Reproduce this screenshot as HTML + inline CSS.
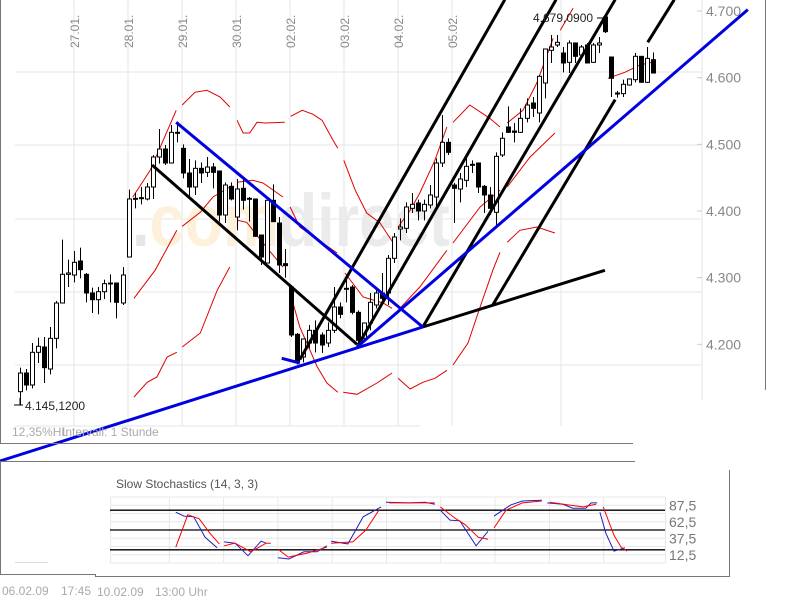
<!DOCTYPE html>
<html><head><meta charset="utf-8"><style>
html,body{margin:0;padding:0;background:#fff;}
svg{display:block;font-family:"Liberation Sans",Arial,sans-serif;}
</style></head><body>
<svg id="chart" width="800" height="600" viewBox="0 0 800 600" xmlns="http://www.w3.org/2000/svg">
<g id="grid"></g>
<g id="wm">
<text x="132" y="246" font-size="74" font-weight="bold" textLength="318" lengthAdjust="spacingAndGlyphs"><tspan fill="#e6e6e6">.</tspan><tspan fill="#fdf1dc">com</tspan><tspan fill="#ebebeb">direct</tspan></text>
</g>
<g id="bands"></g>
<g id="candles"></g>
<g id="annot"></g>
<g id="frame"></g>
<g id="stoch"></g>
</svg>
<script>
// ---------- main chart data ----------
const dateLabels = ["27.01.","28.01.","29.01.","30.01.","02.02.","03.02.","04.02.","05.02."];
const priceTicks = [4700,4600,4500,4400,4300,4200];
const priceTickLabels = ["4.700","4.600","4.500","4.400","4.300","4.200"];
const opens  = [4129,4157,4139,4188,4196,4163,4209,4262,4305,4304,4325,4305,4277,4267,4279,4292,4292,4262,4331,4418,4419,4418,4436,4481,4493,4472,4518,4494,4457,4436,4464,4458,4466,4460,4394,4437,4391,4434,4419,4418,4364,4322,4416,4382,4321,4286,4215,4181,4202,4221,4214,4202,4221,4256,4284,4286,4248,4209,4232,4259,4277,4277,4329,4373,4374,4404,4412,4400,4409,4421,4472,4503,4439,4433,4446,4470,4472,4437,4424,4398,4484,4526,4520,4518,4539,4562,4547,4592,4641,4649,4637,4623,4652,4634,4649,4623,4649,4691,4631,4577,4576,4589,4597,4632,4593,4627];
const highs  = [4165,4163,4202,4210,4211,4226,4265,4357,4327,4340,4345,4307,4285,4286,4297,4305,4292,4316,4432,4427,4436,4442,4484,4523,4499,4529,4532,4500,4478,4476,4473,4481,4472,4460,4443,4443,4448,4451,4421,4418,4364,4416,4440,4391,4343,4289,4217,4209,4229,4236,4218,4233,4286,4263,4304,4289,4251,4233,4277,4281,4307,4334,4367,4389,4413,4427,4417,4417,4439,4479,4544,4509,4442,4457,4481,4476,4472,4439,4436,4488,4518,4557,4532,4554,4569,4571,4604,4643,4664,4664,4646,4656,4653,4649,4652,4652,4661,4694,4631,4580,4597,4599,4637,4632,4646,4638];
const lows   = [4109,4131,4134,4172,4142,4155,4194,4262,4286,4293,4299,4263,4247,4245,4268,4263,4239,4259,4331,4404,4410,4416,4418,4471,4469,4471,4503,4449,4421,4424,4442,4451,4434,4384,4382,4416,4371,4402,4384,4361,4319,4322,4384,4307,4300,4211,4170,4173,4194,4188,4187,4196,4217,4239,4263,4245,4203,4203,4221,4254,4262,4259,4322,4356,4367,4397,4386,4386,4404,4406,4466,4484,4382,4413,4436,4457,4427,4397,4394,4376,4481,4517,4503,4517,4533,4541,4533,4569,4622,4646,4608,4607,4622,4631,4622,4622,4637,4667,4571,4570,4571,4588,4593,4593,4592,4607];
const closes = [4157,4139,4188,4197,4165,4209,4262,4305,4307,4323,4312,4277,4267,4279,4291,4292,4263,4304,4418,4419,4420,4436,4481,4493,4472,4518,4517,4457,4436,4464,4457,4466,4458,4394,4439,4418,4433,4416,4418,4362,4331,4416,4384,4319,4318,4214,4173,4208,4221,4202,4199,4221,4256,4245,4284,4248,4206,4232,4263,4277,4269,4329,4361,4376,4406,4410,4400,4410,4424,4472,4503,4488,4434,4448,4467,4470,4436,4424,4404,4482,4509,4518,4518,4539,4559,4554,4602,4643,4646,4653,4622,4652,4632,4646,4622,4649,4652,4669,4599,4577,4590,4598,4632,4593,4629,4607];

// Bollinger bands: [index, price] with null = gap
const upperBand = [[18.7,4421],[21.6,4461],[25.9,4551],null,[26.9,4559],[29.0,4578],[31.0,4581],[33.2,4571],[34.8,4556],null,[36.0,4536],[37.0,4517],[38.1,4517],[39.3,4533],[40.6,4532],[43.9,4533],null,[44.9,4542],[46.8,4551],[48.6,4545],[50.1,4536],[51.9,4506],[52.7,4494],null,[53.7,4476],[55.6,4431],[57.5,4397],[59.7,4382],[61.9,4352],null,[62.7,4376],[64.7,4401],[66.3,4427],[68.8,4476],[70.8,4526],null,[71.8,4533],[74.6,4559],[77.9,4539],[79.6,4526],null,[80.8,4532],[83.4,4551],[85.7,4592],[88.4,4659],null,[89.6,4671],[91.7,4704]];
const middleBand = [[18.9,4269],[22.4,4311],[26.0,4371],null,[26.9,4377],[29.9,4398],[32.0,4421],[34.8,4436],null,[36.0,4443],[38.6,4446],[40.3,4442],[43.6,4421],null,[44.8,4406],[46.4,4376],[50.2,4352],[52.6,4337],null,[53.9,4307],[56.9,4271],[60.2,4262],[61.7,4254],null,[63.0,4254],[66.3,4286],[70.8,4341],null,[71.8,4352],[76.3,4406],[79.6,4431],null,[80.8,4436],[84.6,4481],[88.7,4517],null,[97.5,4599],[100.3,4608],[102.8,4619],[104.8,4623]];
const lowerBand = [[18.9,4121],[21.1,4143],[22.7,4151],[24.4,4181],[26.0,4188],null,[26.9,4196],[29.9,4217],[32.7,4281],[34.8,4316],null,[36.0,4386],[37.6,4383],[40.3,4352],[43.6,4316],null,[44.8,4277],[46.4,4226],[49.3,4166],[50.9,4142],[52.7,4128],null,[53.6,4128],[55.9,4125],[59.2,4142],[61.7,4157],null,[62.7,4149],[64.7,4133],[66.8,4143],[68.8,4149],[70.8,4161],null,[71.8,4169],[74.3,4202],[76.3,4256],[78.4,4311],[79.6,4338],null,[80.8,4353],[82.9,4371],[85.7,4376],[88.7,4367]];

// Trend lines [i1,p1,i2,p2]
const blueLines = [[-3.3,4025,66.8,4226],[25.9,4533,66.8,4226],[55.9,4196,120.7,4702],[43.4,4179,46.4,4172]];
const blackLines = [[21.9,4469,55.9,4200],[46.4,4177,80.4,4717],[56.1,4199,88.9,4717],[66.8,4226,98.7,4717],[78.4,4259,98.7,4567],[104.1,4653,108.5,4717],[66.8,4226,97.0,4311]];

// ---------- stochastics data ----------
const stochTicks = [87.5,62.5,37.5,12.5];
const stochTickLabels = ["87,5","62,5","37,5","12,5"];
const stochRefLines = [80,50,20];
const kTime = [1.12,1.27,1.45,1.66,1.88,null,2.01,2.21,2.45,2.69,2.78,null,3.00,3.20,3.48,3.72,3.90,null,3.98,4.29,4.57,4.90,null,4.99,5.41,5.71,5.89,null,5.99,6.17,6.35,6.65,6.87,null,6.98,7.29,7.50,7.86,null,7.96,8.25,8.43,8.67,8.77,8.88,null,8.93,9.04,9.19,9.39];
const kValues = [77,71,70,39,23,null,32,30,11,33,30,null,8,6,17,17,26,null,33,29,70,85,null,92,91,92,89,null,80,65,64,26,48,null,71,88,94,95,null,91,89,83,83,91,91,null,77,45,18,23];
const dTime = [1.12,1.34,1.55,1.75,1.92,null,2.01,2.21,2.50,2.78,2.87,null,3.00,3.19,3.54,3.90,null,3.98,4.38,4.62,4.86,null,5.05,5.41,5.89,null,5.99,6.26,6.45,6.69,6.87,null,6.98,7.20,7.50,7.86,null,8.01,8.34,8.62,8.86,null,8.99,9.19,9.32,9.43];
const dValues = [24,73,67,45,29,null,26,30,17,30,30,null,21,9,15,24,null,30,32,50,80,null,91,91,91,null,85,68,58,39,36,null,53,80,91,94,null,92,88,85,89,null,85,42,24,18];

// ---------- scales ----------
const xs = i => 20 + i*6.03;
const ys = p => 11 + (4700 - p)/1.5;
const sx = t => 115 + t*54.3;
const sy = v => 563 - v*0.66;

const NS = "http://www.w3.org/2000/svg";
function mk(parent, tag, attrs){ const e=document.createElementNS(NS,tag); for(const k in attrs) e.setAttribute(k,attrs[k]); parent.appendChild(e); return e; }
const G = id => document.getElementById(id);

// ---------- grid ----------
const grid = G('grid');
[72,145,219,292,365].forEach(y=>{ const l=mk(grid,'line',{x1:15,x2:702,y1:y,y2:y,stroke:'#e6e6e6'});

 });
mk(grid,'line',{x1:15,x2:420,y1:426,y2:426,stroke:'#e6e6e6'});
dateLabels.forEach((d,k)=>{ const x=74+k*54;
 const l=mk(grid,'line',{x1:x,x2:x,y1:0,y2:426,stroke:'#e6e6e6'});
 
 
 const t=mk(grid,'text',{x:0,y:0,'font-size':12,fill:'#888',transform:`translate(${x+5},48) rotate(-90)`}); t.textContent=d;
 
  });
mk(grid,'line',{x1:561,x2:561,y1:0,y2:426,stroke:'#e6e6e6'});
mk(grid,'line',{x1:702,x2:702,y1:0,y2:400,stroke:'#e6e6e6'});
priceTicks.forEach((p,k)=>{ const y=ys(p);
 mk(grid,'line',{x1:697,x2:702,y1:y,y2:y,stroke:'#ccc'});
 const t=mk(grid,'text',{x:706,y:y+5,'font-size':14,fill:'#888'}); t.textContent=priceTickLabels[k];
 
  });

// ---------- bands ----------
function pathFrom(pts, fx, fy){ let d='',pen=false; pts.forEach(pt=>{ if(!pt){pen=false;return;} d+=(pen?'L':'M')+fx(pt[0]).toFixed(1)+' '+fy(pt[1]).toFixed(1)+' '; pen=true; }); return d; }
[['upper',upperBand],['middle',middleBand],['lower',lowerBand]].forEach(([n,arr])=>{
 const p=mk(G('bands'),'path',{d:pathFrom(arr,xs,ys),fill:'none',stroke:'#e00000','stroke-width':1});
 
  });

// ---------- candles ----------
const cg=G('candles');
opens.forEach((o,i)=>{ const x=Math.round(xs(i))+0.5, c=closes[i];
 const g=mk(cg,'g',{});
 
 
 mk(g,'line',{x1:x,x2:x,y1:ys(highs[i]),y2:ys(lows[i]),stroke:'#000'});
 const top=ys(Math.max(o,c)), h=Math.max(1,ys(Math.min(o,c))-top);
 mk(g,'rect',{x:x-2,y:top,width:4,height:h,fill:c>=o?'#fff':'#000',stroke:'#000','stroke-width':1});
});

// ---------- annotations ----------
const ag=G('annot');
blackLines.forEach(l=>{ const e=mk(ag,'line',{x1:xs(l[0]),y1:ys(l[1]),x2:xs(l[2]),y2:ys(l[3]),stroke:'#000','stroke-width':3});
 
  });
blueLines.forEach(l=>{ const e=mk(ag,'line',{x1:xs(l[0]),y1:ys(l[1]),x2:xs(l[2]),y2:ys(l[3]),stroke:'#0000e0','stroke-width':3});
 
  });
let t=mk(ag,'text',{x:533,y:22,'font-size':12,fill:'#222'}); t.textContent='4.679,0900';


mk(ag,'line',{x1:597,x2:603,y1:18,y2:18,stroke:'#000'});
mk(ag,'line',{x1:14,x2:23,y1:405,y2:405,stroke:'#000'});
mk(ag,'line',{x1:20,x2:20,y1:398,y2:405,stroke:'#000'});
t=mk(ag,'text',{x:25,y:410,'font-size':12,fill:'#222'}); t.textContent='4.145,1200';



// ---------- frames & footer text ----------
const fg=G('frame');
mk(fg,'line',{x1:0.5,x2:0.5,y1:0,y2:443,stroke:'#777'});
mk(fg,'line',{x1:0,x2:633,y1:443.5,y2:443.5,stroke:'#777'});
mk(fg,'line',{x1:765.5,x2:765.5,y1:0,y2:390,stroke:'#777'});
mk(fg,'line',{x1:0,x2:635,y1:461.5,y2:461.5,stroke:'#777'});
mk(fg,'line',{x1:0.5,x2:0.5,y1:461,y2:574,stroke:'#777'});
mk(fg,'line',{x1:0,x2:96,y1:574.5,y2:574.5,stroke:'#777'});
mk(fg,'line',{x1:95.5,x2:95.5,y1:574,y2:577,stroke:'#777'});
mk(fg,'line',{x1:95,x2:730,y1:576.5,y2:576.5,stroke:'#777'});
mk(fg,'line',{x1:729.5,x2:729.5,y1:470,y2:577,stroke:'#777'});
mk(fg,'line',{x1:15,x2:48,y1:562.5,y2:562.5,stroke:'#ddd'});
[['12,35%HL',12,436],['Intervall: 1 Stunde',62,436],['06.02.09',2,595],['17:45',61,595],['10.02.09',97,596],['13:00 Uhr',155,596]].forEach(([s,x,y])=>{
 const e=mk(fg,'text',{x:x,y:y,'font-size':12,fill:'#aaa'}); e.textContent=s;
 
  });

// ---------- stochastics ----------
const sg=G('stoch');
t=mk(sg,'text',{x:116,y:488,'font-size':12,fill:'#555'}); t.textContent='Slow Stochastics (14, 3, 3)';


for(let v=0;v<=100;v+=12.5){ mk(sg,'line',{x1:110,x2:665,y1:sy(v),y2:sy(v),stroke:'#e8e8e8'}); }
for(let d=1;d<=9;d++){ mk(sg,'line',{x1:sx(d),x2:sx(d),y1:sy(100),y2:sy(0),stroke:'#e8e8e8'}); }
mk(sg,'line',{x1:110.5,x2:110.5,y1:sy(100),y2:sy(0),stroke:'#e8e8e8'});
mk(sg,'line',{x1:665.5,x2:665.5,y1:sy(100),y2:sy(0),stroke:'#e8e8e8'});
stochRefLines.forEach(v=>{ const e=mk(sg,'line',{x1:110,x2:665,y1:sy(v),y2:sy(v),stroke:'#000','stroke-width':1.3});
 
  });
stochTicks.forEach((v,k)=>{ const e=mk(sg,'text',{x:669,y:sy(v)+5,'font-size':14,fill:'#777'}); e.textContent=stochTickLabels[k];
 
  });
function seriesPath(ts,vs){ let d='',pen=false; ts.forEach((tt,k)=>{ if(tt===null||vs[k]===null){pen=false;return;} d+=(pen?'L':'M')+sx(tt).toFixed(1)+' '+sy(vs[k]).toFixed(1)+' '; pen=true; }); return d; }
let kp=mk(sg,'path',{d:seriesPath(kTime,kValues),fill:'none',stroke:'#2020c0','stroke-width':1});


let dp=mk(sg,'path',{d:seriesPath(dTime,dValues),fill:'none',stroke:'#ff0000','stroke-width':1});


</script>
</body></html>
